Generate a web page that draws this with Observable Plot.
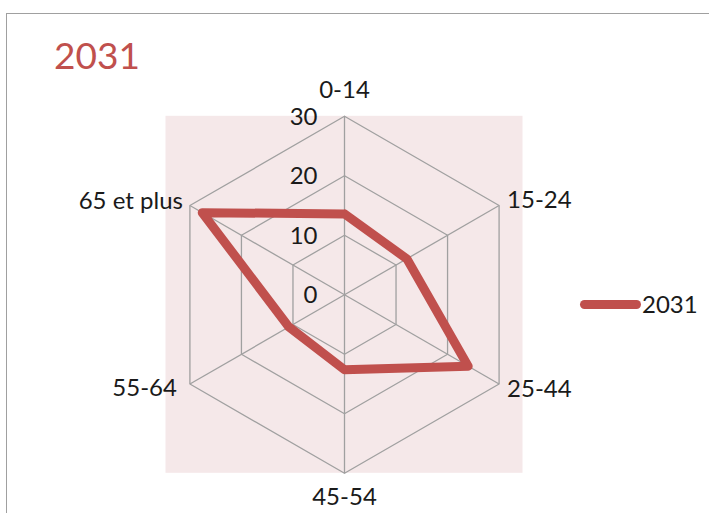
<!DOCTYPE html>
<html>
<head>
<meta charset="utf-8">
<script src="https://cdn.jsdelivr.net/npm/d3@7"></script>
<script src="https://cdn.jsdelivr.net/npm/@observablehq/plot@0.6"></script>
<style>
  html, body { margin: 0; padding: 0; background: #ffffff; }
  #wrap { position: relative; width: 709px; height: 513px; overflow: hidden; font-family: Lato, "Open Sans", sans-serif; }
  #frame { position: absolute; left: 6px; top: 13px; width: 900px; height: 700px; border-left: 1.5px solid #a0a0a0; border-top: 1.5px solid #a0a0a0; }
  #chart { position: absolute; left: 0; top: 0; }
  #title { position: absolute; left: 54px; top: 36px; font-size: 37px; line-height: 1; color: #C0504D; }
  #legend { position: absolute; left: 580px; top: 292px; display: flex; align-items: center; font-size: 24px; color: #1a1a1a; line-height: 1; }
  #legend .sw { width: 61px; height: 9px; border-radius: 5px; background: #C0504D; margin-right: 1px; }
</style>
</head>
<body>
<div id="wrap">
  <div id="frame"></div>
  <div id="chart"></div>
  <div id="title"></div>
  <div id="legend"><span class="sw"></span><span class="lt"></span></div>
</div>
<script>
// ---- data ----
const categories = ["0-14", "15-24", "25-44", "45-54", "55-64", "65 et plus"];
const values2031 = [13.6, 12.1, 24.0, 12.6, 10.8, 27.6];
const tickValues = [0, 10, 20, 30];
const seriesName = "2031";
const chartTitle = "2031";

// ---- geometry helpers ----
const W = 709, H = 513;
const maxR = 30;
const k = 178.5 / maxR;        // pixels per unit
const cx = 344, cy = 294.3;    // centre of the radar in pixels
const ang = i => i * Math.PI / 3;
const px = (r, i) => r * Math.sin(ang(i));
const py = (r, i) => r * Math.cos(ang(i));

const RED = "#C0504D";
const GRID = "#a0a0a0";
const FS = 24;

// rings
const ringPts = [];
for (const t of tickValues.filter(t => t > 0)) {
  for (let i = 0; i <= categories.length; i++) {
    ringPts.push({ t, x: px(t, i % categories.length), y: py(t, i % categories.length) });
  }
}
// series polygon (closed)
const seriesPts = values2031.concat([values2031[0]]).map((v, j) => {
  const i = j % categories.length;
  return { x: px(v, i), y: py(v, i) };
});
const cats = categories.map((c, i) => ({ c, i, x: px(maxR, i), y: py(maxR, i) }));

const plot = Plot.plot({
  width: W,
  height: H,
  margin: 0,
  x: { domain: [-cx / k, (W - cx) / k], range: [0, W], axis: null },
  y: { domain: [-(H - cy) / k, cy / k], range: [H, 0], axis: null },
  style: { background: "transparent", fontFamily: "Lato, 'Open Sans', sans-serif", color: "#1a1a1a" },
  marks: [
    Plot.rect([{}], { x1: -maxR, x2: maxR, y1: -maxR, y2: maxR, fill: "#f5e8e9" }),
    Plot.line(ringPts, { x: "x", y: "y", z: "t", stroke: GRID, strokeWidth: 1.3 }),
    Plot.link(cats, { x1: 0, y1: 0, x2: "x", y2: "y", stroke: GRID, strokeWidth: 1.3 }),
    Plot.line(seriesPts, { x: "x", y: "y", stroke: RED, strokeWidth: 9, strokeLinejoin: "round", strokeLinecap: "round" }),
    Plot.text(tickValues, { x: 0, y: d => d, text: d => String(d), textAnchor: "end", dx: -27, dy: 1, fontSize: FS, fill: "#1a1a1a" }),
    // top label
    Plot.text(cats.filter(d => d.i === 0), { x: "x", y: "y", text: "c", dy: -26, fontSize: FS, fill: "#1a1a1a" }),
    // bottom label
    Plot.text(cats.filter(d => d.i === 3), { x: "x", y: "y", text: "c", dy: 24, fontSize: FS, fill: "#1a1a1a" }),
    // right labels
    Plot.text(cats.filter(d => d.i === 1), { x: "x", y: "y", text: "c", textAnchor: "start", dx: 8, dy: -5, fontSize: FS, fill: "#1a1a1a" }),
    Plot.text(cats.filter(d => d.i === 2), { x: "x", y: "y", text: "c", textAnchor: "start", dx: 8, dy: 5, fontSize: FS, fill: "#1a1a1a" }),
    // left labels
    Plot.text(cats.filter(d => d.i === 4), { x: "x", y: "y", text: "c", textAnchor: "end", dx: -13, dy: 4, fontSize: FS, fill: "#1a1a1a" }),
    Plot.text(cats.filter(d => d.i === 5), { x: "x", y: "y", text: "c", textAnchor: "end", dx: -7, dy: -4, fontSize: FS, fill: "#1a1a1a" })
  ]
});
document.getElementById("chart").appendChild(plot);
document.getElementById("title").textContent = chartTitle;
document.querySelector("#legend .lt").textContent = seriesName;
</script>
</body>
</html>
